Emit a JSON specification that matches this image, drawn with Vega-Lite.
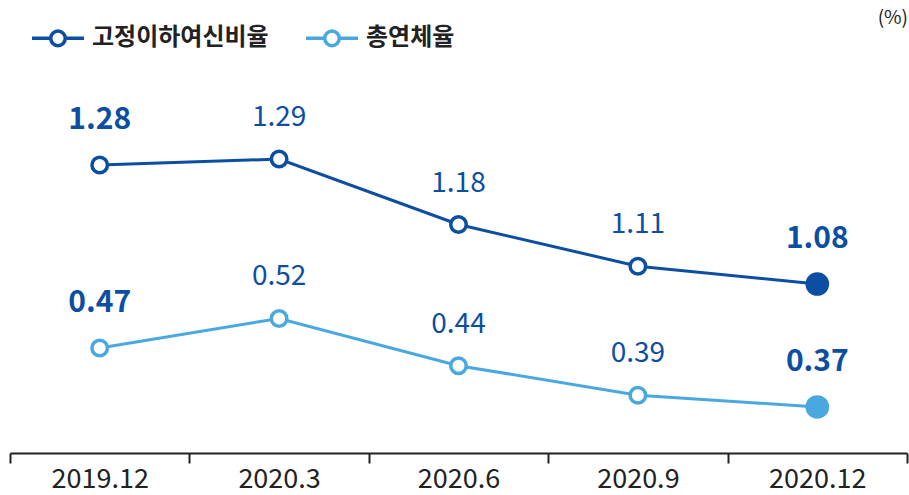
{
  "$schema": "https://vega.github.io/schema/vega-lite/v6.json",
  "width": 897,
  "height": 393,
  "autosize": {"type": "none"},
  "padding": {"left": 10, "top": 60, "right": 2, "bottom": 42},
  "background": "white",
  "title": {"text": "(%)", "anchor": "end", "fontSize": 19, "fontWeight": "normal", "font": "Noto Sans CJK KR", "color": "#222", "offset": -18},
  "config": {
    "view": {"stroke": null},
    "font": "Noto Sans CJK KR",
    "text": {"font": "Noto Sans CJK KR"}
  },
  "data": {
    "values": [
      {"period": "2019.12", "series": "고정이하여신비율", "value": 1.28},
      {"period": "2020.3", "series": "고정이하여신비율", "value": 1.29},
      {"period": "2020.6", "series": "고정이하여신비율", "value": 1.18},
      {"period": "2020.9", "series": "고정이하여신비율", "value": 1.11},
      {"period": "2020.12", "series": "고정이하여신비율", "value": 1.08},
      {"period": "2019.12", "series": "총연체율", "value": 0.47},
      {"period": "2020.3", "series": "총연체율", "value": 0.52},
      {"period": "2020.6", "series": "총연체율", "value": 0.44},
      {"period": "2020.9", "series": "총연체율", "value": 0.39},
      {"period": "2020.12", "series": "총연체율", "value": 0.37}
    ]
  },
  "encoding": {
    "x": {
      "field": "period", "type": "ordinal", "sort": null,
      "scale": {"paddingInner": 0, "paddingOuter": 0},
      "axis": {
        "title": null, "labelAngle": 0, "labelFontSize": 27, "labelColor": "#222",
        "labelFont": "Noto Sans CJK KR", "labelPadding": 3,
        "domainColor": "#222", "domainWidth": 2, "ticks": true, "tickBand": "extent",
        "tickSize": 10, "tickColor": "#222", "tickWidth": 2, "grid": false
      }
    }
  },
  "layer": [
    {
      "transform": [{"filter": "datum.series == '고정이하여신비율'"}],
      "encoding": {
        "y": {"field": "value", "type": "quantitative", "scale": {"domain": [0.796, 1.4565], "zero": false, "nice": false}, "axis": null}
      },
      "layer": [
        {
          "mark": {"type": "line", "strokeWidth": 3},
          "encoding": {
            "color": {
              "field": "series", "type": "nominal",
              "scale": {"domain": ["고정이하여신비율", "총연체율"], "range": ["#0b4ea2", "#4aa8e0"]},
              "legend": {
                "title": null, "orient": "none", "legendX": 20, "legendY": -50, "direction": "horizontal",
                "symbolType": "M-1,0L-0.28,0M0.28,0L1,0M0.28,0A0.28,0.28,0,1,1,-0.28,0A0.28,0.28,0,1,1,0.28,0Z",
                "symbolSize": 2704, "symbolStrokeWidth": 3.5, "labelFontSize": 24, "labelFontWeight": "bold",
                "labelFont": "Noto Sans CJK KR", "labelColor": "#222", "labelOffset": 6, "columnPadding": 30,
                "labelLimit": 400,
                "encode": {"symbols": {"update": {"fill": {"value": "white"}}}}
              }
            }
          }
        },
        {
          "transform": [{"filter": "datum.period != '2020.12'"}],
          "mark": {"type": "point", "filled": true, "fill": "white", "stroke": "#0b4ea2", "strokeWidth": 3.5, "size": 240, "opacity": 1}
        },
        {
          "transform": [{"filter": "datum.period == '2020.12'"}],
          "mark": {"type": "point", "filled": true, "fill": "#0b4ea2", "size": 560, "opacity": 1}
        },
        {
          "transform": [{"filter": "datum.period == '2019.12' || datum.period == '2020.12'"}],
          "mark": {"type": "text", "fontSize": 30, "fontWeight": "bold", "color": "#0b4ea2", "dy": -45, "baseline": "middle"},
          "encoding": {"text": {"field": "value", "type": "quantitative", "format": ".2f"}}
        },
        {
          "transform": [{"filter": "datum.period != '2019.12' && datum.period != '2020.12'"}],
          "mark": {"type": "text", "fontSize": 28, "fontWeight": "normal", "color": "#0b4ea2", "dy": -41, "baseline": "middle"},
          "encoding": {"text": {"field": "value", "type": "quantitative", "format": ".2f"}}
        }
      ]
    },
    {
      "transform": [{"filter": "datum.series == '총연체율'"}],
      "encoding": {
        "y": {"field": "value", "type": "quantitative", "scale": {"domain": [0.292, 0.958], "zero": false, "nice": false}, "axis": null}
      },
      "layer": [
        {
          "mark": {"type": "line", "strokeWidth": 3},
          "encoding": {
            "color": {
              "field": "series", "type": "nominal",
              "scale": {"domain": ["고정이하여신비율", "총연체율"], "range": ["#0b4ea2", "#4aa8e0"]}
            }
          }
        },
        {
          "transform": [{"filter": "datum.period != '2020.12'"}],
          "mark": {"type": "point", "filled": true, "fill": "white", "stroke": "#4aa8e0", "strokeWidth": 3.5, "size": 240, "opacity": 1}
        },
        {
          "transform": [{"filter": "datum.period == '2020.12'"}],
          "mark": {"type": "point", "filled": true, "fill": "#4aa8e0", "size": 560, "opacity": 1}
        },
        {
          "transform": [{"filter": "datum.period == '2019.12' || datum.period == '2020.12'"}],
          "mark": {"type": "text", "fontSize": 30, "fontWeight": "bold", "color": "#0b4ea2", "dy": -45, "baseline": "middle"},
          "encoding": {"text": {"field": "value", "type": "quantitative", "format": ".2f"}}
        },
        {
          "transform": [{"filter": "datum.period != '2019.12' && datum.period != '2020.12'"}],
          "mark": {"type": "text", "fontSize": 28, "fontWeight": "normal", "color": "#0b4ea2", "dy": -41, "baseline": "middle"},
          "encoding": {"text": {"field": "value", "type": "quantitative", "format": ".2f"}}
        }
      ]
    }
  ],
  "resolve": {"scale": {"y": "independent"}}
}
